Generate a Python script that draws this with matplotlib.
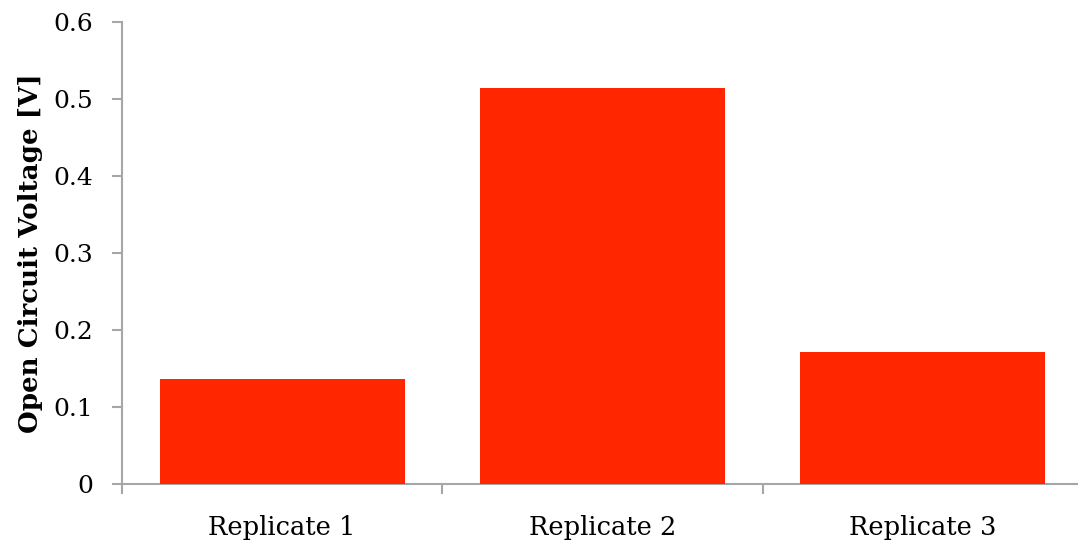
import matplotlib
matplotlib.use('Agg')
import matplotlib.pyplot as plt
import numpy as np

categories = ['Replicate 1', 'Replicate 2', 'Replicate 3']
voc = [0.136, 0.514, 0.171]  # open circuit voltage [V]
yticks = [0, 0.1, 0.2, 0.3, 0.4, 0.5, 0.6]
ytick_labels = ['0', '0.1', '0.2', '0.3', '0.4', '0.5', '0.6']

plt.rcParams['font.family'] = ['DejaVu Serif']
axis_grey = '#a6a6a6'

fig = plt.figure(figsize=(10.78, 5.42), dpi=100)
ax = fig.add_axes([0.1132, 0.107, 0.8914, 0.8524])

x = np.arange(len(categories))
ax.bar(x, voc, width=0.765, color='#ff2600', edgecolor='none', zorder=3)

ax.set_xlim(-0.5, len(categories) - 0.5)
ax.set_ylim(0, 0.6)
ax.set_yticks(yticks)
ax.set_yticklabels(ytick_labels)
ax.set_xticks(x)
ax.set_xticklabels(categories)
ax.set_xticks(np.arange(len(categories) + 1) - 0.5, minor=True)

for side in ['top', 'right']:
    ax.spines[side].set_visible(False)
for side in ['left', 'bottom']:
    ax.spines[side].set_color(axis_grey)
    ax.spines[side].set_linewidth(1.5)

ax.tick_params(axis='y', length=7, width=1.5, color=axis_grey, labelsize=18, pad=14)
ax.tick_params(axis='x', which='major', length=0, labelsize=18.5, pad=22)
ax.tick_params(axis='x', which='minor', length=7, width=1.5, color=axis_grey)

ax.set_ylabel('Open Circuit Voltage [V]', fontsize=18.8, fontweight='bold', labelpad=7)

fig.savefig('out.png', dpi=100)
